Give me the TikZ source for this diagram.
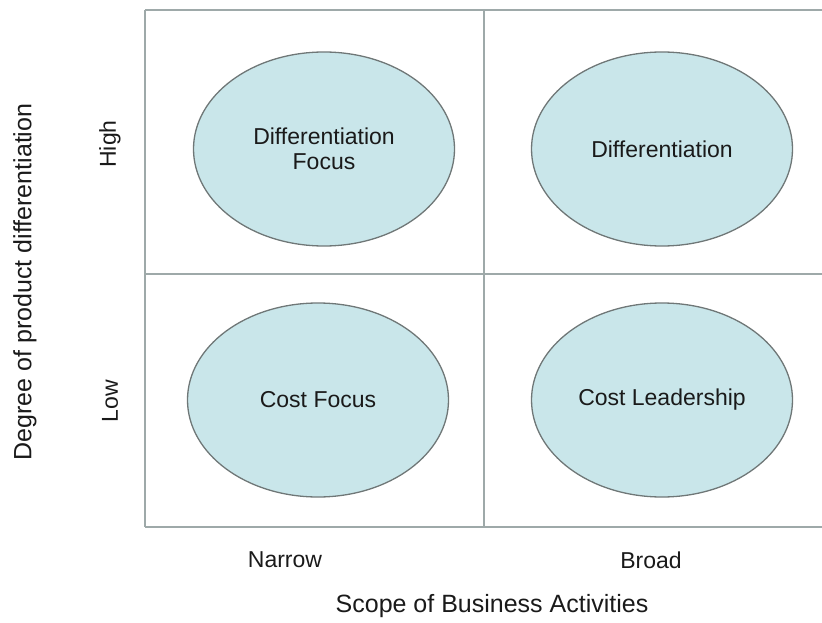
\documentclass[tikz,border=0pt]{standalone}
\usepackage{fontspec}
\setmainfont{Liberation Sans}
\usetikzlibrary{shapes.geometric}
\definecolor{gridc}{HTML}{9EA9A9}
\definecolor{ellfill}{HTML}{C9E6EA}
\definecolor{elldraw}{HTML}{6F7777}
\definecolor{txt}{HTML}{1A1A1A}
\tikzset{
  gridline/.style={draw=gridc, line width=2.6pt},
  quad/.style={ellipse, draw=elldraw, fill=ellfill, line width=1.3pt,
    minimum width=261pt, minimum height=194pt, inner sep=0pt,
    align=center, text=txt, font=\fontsize{23}{25.5}\selectfont},
  lab/.style={text=txt, inner sep=0pt, font=\fontsize{23}{26}\selectfont},
  axis/.style={text=txt, inner sep=0pt, font=\fontsize{25}{28}\selectfont}
}
\begin{document}
\begin{tikzpicture}[x=1pt,y=-1pt]
\useasboundingbox (0,0) rectangle (822,623);
% grid corners
\coordinate (tl) at (145,10);
\coordinate (tm) at (484,10);
\coordinate (tr) at (822,10);
\coordinate (ml) at (145,274);
\coordinate (mr) at (822,274);
\coordinate (bl) at (145,527);
\coordinate (bm) at (484,527);
\coordinate (br) at (822,527);
\draw[gridline] (tl) -- (tr);
\draw[gridline] (ml) -- (mr);
\draw[gridline] (bl) -- (br);
\draw[gridline] (tl) -- (bl);
\draw[gridline] (tm) -- (bm);
% ellipses
\node[quad] (df) at (324,149) {Differentiation\\Focus};
\node[quad] (d) at (662,149) {Differentiation};
\node[quad] (cf) at (318,400) {Cost Focus};
\node[quad] (cl) at (662,400) {Cost Leadership};
% axis labels
\node[lab, rotate=90] (high) at (110,144) {High};
\node[lab, rotate=90] (low) at (110,401) {Low};
\node[axis, rotate=90] (ylab) at (25,282) {Degree of product differentiation};
\node[lab] (narrow) at (285,560) {Narrow};
\node[lab] (broad) at (651,560) {Broad};
\node[axis] (xlab) at (492,606) {Scope of Business Activities};
\end{tikzpicture}
\end{document}
